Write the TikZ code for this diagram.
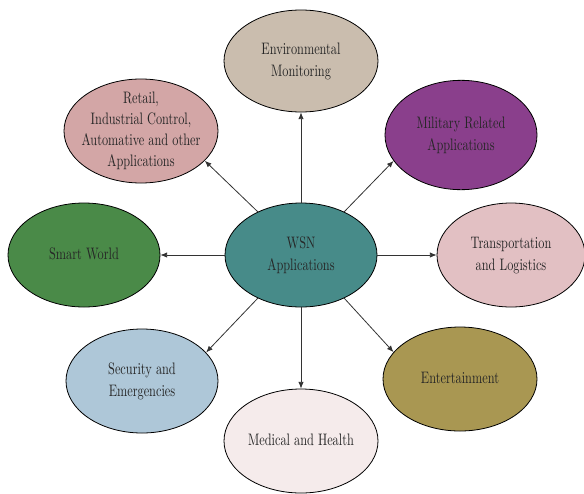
\documentclass[tikz,border=0pt]{standalone}
\usetikzlibrary{shapes.geometric,arrows.meta}
\definecolor{cwsn}{HTML}{478B89}
\definecolor{cenv}{HTML}{CABDAE}
\definecolor{cmil}{HTML}{8A3F8C}
\definecolor{cret}{HTML}{D3A6A6}
\definecolor{csmw}{HTML}{4A8A48}
\definecolor{ctra}{HTML}{E2C0C3}
\definecolor{csec}{HTML}{AEC7D8}
\definecolor{cmed}{HTML}{F5EBEB}
\definecolor{cent}{HTML}{A99752}
\newcommand{\bubtext}[2][12.7]{\scalebox{0.96}[1.3]{\fontsize{9.6}{#1}\selectfont\begin{tabular}{@{}c@{}}#2\end{tabular}}}
\tikzset{
  bub/.style={ellipse, draw=black, line width=0.6pt, inner sep=0pt,
    minimum width=114pt, minimum height=78pt},
  txt/.style={inner sep=0pt, text=black!85},
  conn/.style={draw=black!80, line width=0.6pt, -{Latex[length=5pt,width=4pt]}}
}
\begin{document}
\begin{tikzpicture}[x=0.75pt,y=-0.75pt]
\useasboundingbox (0,0) rectangle (584,493);
\node[bub, fill=cwsn] (wsn) at (301,255) {};
\node[txt] (twsn) at (wsn) {\bubtext{WSN\\Applications}};
\node[bub, fill=cenv, minimum width=115.5pt, minimum height=76.5pt] (env) at (301,61) {};
\node[txt] (tenv) at (env) {\bubtext{Environmental\\Monitoring}};
\node[bub, fill=cmil, minimum height=82pt] (mil) at (461,135) {};
\node[txt] (tmil) at (mil) {\bubtext{Military Related\\Applications}};
\node[bub, fill=cret, minimum width=115.5pt] (ret) at (141,131) {};
\node[txt] (tret) at (ret) {\bubtext[12]{Retail,\\Industrial Control,\\Automative and other\\Applications}};
\node[bub, fill=csmw] (smw) at (84,255) {};
\node[txt] (tsmw) at (smw) {\bubtext{Smart World}};
\node[bub, fill=ctra, minimum width=111pt] (tra) at (511,255) {};
\node[txt] (ttra) at (tra) {\bubtext{Transportation\\and Logistics}};
\node[bub, fill=csec] (sec) at (142,381) {};
\node[txt] (tsec) at (sec) {\bubtext{Security and\\Emergencies}};
\node[bub, fill=cmed, minimum width=115.5pt] (med) at (301,441) {};
\node[txt] (tmed) at (med) {\bubtext{Medical and Health}};
\node[bub, fill=cent, minimum width=115.5pt] (ent) at (460,379) {};
\node[txt] (tent) at (ent) {\bubtext{Entertainment}};
\draw[conn] (wsn.north) -- (env.south);
\draw[conn] (wsn.south) -- (med.north);
\draw[conn] (wsn.west) -- (smw.east);
\draw[conn] (wsn.east) -- (tra.west);
\draw[conn] (wsn.45) -- (mil.201);
\draw[conn] (wsn.135) -- (ret.335);
\draw[conn] (wsn.225) -- (sec.24);
\draw[conn] (wsn.315) -- (ent.158);
\end{tikzpicture}
\end{document}
